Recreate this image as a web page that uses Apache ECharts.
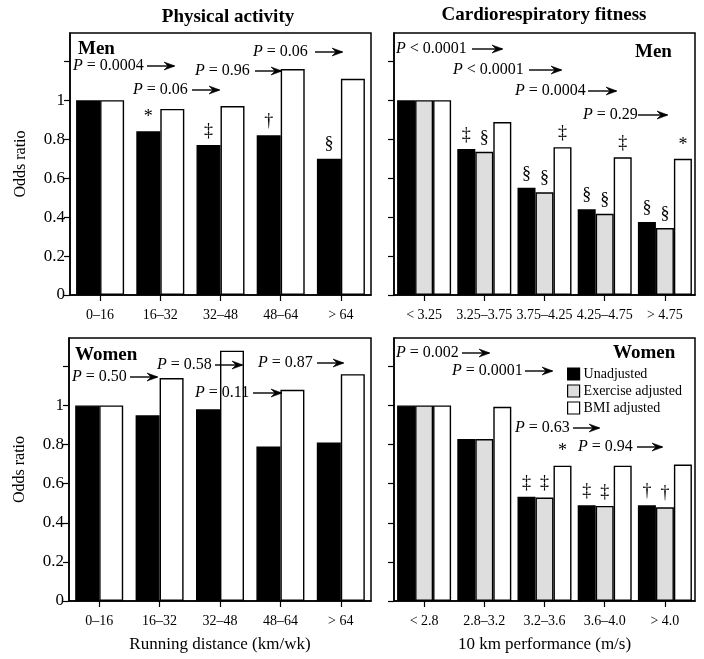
<!DOCTYPE html>
<html><head><meta charset="utf-8">
<script src="https://cdn.jsdelivr.net/npm/echarts@6/dist/echarts.min.js"></script>
<style>html,body{margin:0;padding:0;background:#fff}#c{width:704px;height:659px}</style>
</head><body><div id="c"></div>
<script>
// ---------- data ----------
const paCategories = ['0–16', '16–32', '32–48', '48–64', '> 64'];
const crfMenCategories = ['< 3.25', '3.25–3.75', '3.75–4.25', '4.25–4.75', '> 4.75'];
const crfWomenCategories = ['< 2.8', '2.8–3.2', '3.2–3.6', '3.6–4.0', '> 4.0'];

const paMenUnadj = [1.0, 0.84, 0.77, 0.82, 0.70];
const paMenBmi = [1.0, 0.955, 0.97, 1.16, 1.11];
const paMenUnadjMarks = ['', '*', '‡', '†', '§'];

const paWomenUnadj = [1.0, 0.95, 0.98, 0.79, 0.81];
const paWomenBmi = [1.0, 1.14, 1.28, 1.08, 1.16];

const crfMenUnadj = [1.0, 0.75, 0.55, 0.44, 0.375];
const crfMenEx = [1.0, 0.735, 0.527, 0.417, 0.344];
const crfMenBmi = [1.0, 0.888, 0.759, 0.707, 0.699];
const crfMenUnadjMarks = ['', '‡', '§', '§', '§'];
const crfMenExMarks = ['', '§', '§', '§', '§'];
const crfMenBmiMarks = ['', '', '‡', '‡', '*'];

const crfWomenUnadj = [1.0, 0.828, 0.533, 0.49, 0.49];
const crfWomenEx = [1.0, 0.828, 0.529, 0.486, 0.479];
const crfWomenBmi = [1.0, 0.993, 0.692, 0.692, 0.698];
const crfWomenUnadjMarks = ['', '', '‡', '‡', '†'];
const crfWomenExMarks = ['', '', '‡', '‡', '†'];
const crfWomenBmiMarks = ['', '', '*', '', ''];

const yTickValues = [0, 0.2, 0.4, 0.6, 0.8, 1.0, 1.2];
const yLabelValues = [0, 0.2, 0.4, 0.6, 0.8, 1.0];

const pPaMen = ['P = 0.0004', 'P = 0.06', 'P = 0.96', 'P = 0.06'];
const pCrfMen = ['P < 0.0001', 'P < 0.0001', 'P = 0.0004', 'P = 0.29'];
const pPaWomen = ['P = 0.50', 'P = 0.58', 'P = 0.11', 'P = 0.87'];
const pCrfWomen = ['P = 0.002', 'P = 0.0001', 'P = 0.63', 'P = 0.94'];

const seriesNames = ['Unadjusted', 'Exercise adjusted', 'BMI adjusted'];

// ---------- layout / style ----------
const FONT = 'Liberation Serif, Times New Roman, serif';
const grids = [
  {left: 70, top: 33, width: 301, height: 262},
  {left: 394, top: 33, width: 301, height: 262},
  {left: 69, top: 338, width: 302, height: 263},
  {left: 394, top: 338, width: 301, height: 263}
];
const colors = ['#000000', '#dedede', '#ffffff'];

// annotation positions (pixels): text left x, center y, arrow start, arrow end
const pLayout = [
  [[73, 66, 147, 175], [133, 90, 192, 220], [195, 71, 255, 282], [253, 52, 315, 343]],
  [[396, 49, 472, 503], [453, 70, 529, 562], [515, 91, 588, 617], [583, 115, 638, 668]],
  [[72, 377, 130, 158], [157, 365, 215, 243], [195, 393, 253, 282], [258, 363, 317, 344]],
  [[396, 353, 462, 490], [452, 371, 525, 553], [515, 428, 573, 600], [578, 447, 637, 663]]
];

function yAxis(gi, showLabels) {
  return {
    type: 'value', gridIndex: gi, min: 0, max: 1.345, interval: 0.2,
    axisLine: {show: true, lineStyle: {color: '#000', width: 1.5}},
    axisTick: {show: true, inside: false, length: 6, customValues: yTickValues, lineStyle: {color: '#000', width: 1.2}},
    axisLabel: {show: showLabels, customValues: yLabelValues, fontFamily: FONT, fontSize: 17, color: '#000', margin: 5,
      formatter: v => (v > 1.05 ? '' : (Math.abs(v - 1) < 1e-6 ? '1' : String(+v.toFixed(1))))},
    splitLine: {show: false},
    name: showLabels ? 'Odds ratio' : '', nameLocation: 'middle', nameGap: 41,
    nameTextStyle: {fontFamily: FONT, fontSize: 16, color: '#000'}
  };
}
function xAxis(gi, cats, name) {
  return {
    type: 'category', gridIndex: gi, data: cats,
    axisLine: {show: true, lineStyle: {color: '#000', width: 1.5}},
    axisTick: {show: true, alignWithLabel: true, length: 6, lineStyle: {color: '#000', width: 1.2}},
    axisLabel: {interval: 0, fontFamily: FONT, fontSize: 14, color: '#000', margin: 13},
    name: name || '', nameLocation: 'middle', nameGap: 35,
    nameTextStyle: {fontFamily: FONT, fontSize: 17, color: '#000'}
  };
}
function bar(gi, nameIdx, data, marks, width) {
  return {
    type: 'bar', name: seriesNames[nameIdx], xAxisIndex: gi, yAxisIndex: gi, data: data,
    barWidth: width, barGap: '0%',
    itemStyle: {color: colors[nameIdx], borderColor: '#000', borderWidth: 1.4},
    label: {show: !!marks, position: 'top', distance: 5, fontFamily: FONT, fontSize: 18, color: '#000',
      formatter: p => (marks ? marks[p.dataIndex] : '')},
    emphasis: {disabled: true}, animation: false
  };
}

const graphics = [];
function pText(x, y, str) {
  graphics.push({type: 'text', x: x, y: y, z: 100,
    style: {text: '{i|' + str.charAt(0) + '}' + str.slice(1), fill: '#000', fontFamily: FONT, fontSize: 16,
      verticalAlign: 'middle', align: 'left',
      rich: {i: {fontStyle: 'italic', fontFamily: FONT, fontSize: 16, fill: '#000'}}}});
}
function arrow(x1, x2, y) {
  graphics.push({type: 'line', z: 100, shape: {x1: x1, y1: y, x2: x2 - 1, y2: y}, style: {stroke: '#000', lineWidth: 1.4}});
  graphics.push({type: 'polygon', z: 100, shape: {points: [[x2 - 11, y - 4], [x2, y], [x2 - 11, y + 4], [x2 - 7, y]]},
    style: {fill: '#000', stroke: '#000', lineWidth: 0.6}});
}
[pPaMen, pCrfMen, pPaWomen, pCrfWomen].forEach((arr, gi) => {
  arr.forEach((s, k) => {
    const L = pLayout[gi][k];
    pText(L[0], L[1], s);
    arrow(L[2], L[3], L[1]);
  });
});
function boldText(x, y, str) {
  graphics.push({type: 'text', x: x, y: y, z: 100,
    style: {text: str, fill: '#000', fontFamily: FONT, fontSize: 19, fontWeight: 'bold', verticalAlign: 'middle', align: 'left'}});
}
boldText(78, 49, 'Men');
boldText(635, 52, 'Men');
boldText(75, 355, 'Women');
boldText(613, 353, 'Women');
function titleText(cx, cy, str) {
  graphics.push({type: 'text', x: cx, y: cy, z: 100,
    style: {text: str, fill: '#000', fontFamily: FONT, fontSize: 19, fontWeight: 'bold', verticalAlign: 'middle', align: 'center'}});
}
titleText(228, 17, 'Physical activity');
titleText(544, 15, 'Cardiorespiratory fitness');

const option = {
  backgroundColor: '#fff',
  animation: false,
  legend: {
    data: seriesNames, orient: 'vertical', left: 564, top: 363, itemWidth: 12, itemHeight: 12, itemGap: 1,
    icon: 'rect', selectedMode: false, padding: 3,
    textStyle: {fontFamily: FONT, fontSize: 14, color: '#000', lineHeight: 16, padding: [0, 0, 0, -1]},
    itemStyle: {borderColor: '#000', borderWidth: 1.2}
  },
  grid: grids.map(g => Object.assign({show: true, borderColor: '#000', borderWidth: 1.5, backgroundColor: 'transparent'}, g)),
  xAxis: [
    xAxis(0, paCategories),
    xAxis(1, crfMenCategories),
    xAxis(2, paCategories, 'Running distance (km/wk)'),
    xAxis(3, crfWomenCategories, '10 km performance (m/s)')
  ],
  yAxis: [yAxis(0, true), yAxis(1, false), yAxis(2, true), yAxis(3, false)],
  series: [
    bar(0, 0, paMenUnadj, paMenUnadjMarks, 24),
    bar(0, 2, paMenBmi, null, 24),
    bar(1, 0, crfMenUnadj, crfMenUnadjMarks, 18),
    bar(1, 1, crfMenEx, crfMenExMarks, 18),
    bar(1, 2, crfMenBmi, crfMenBmiMarks, 18),
    bar(2, 0, paWomenUnadj, null, 24),
    bar(2, 2, paWomenBmi, null, 24),
    bar(3, 0, crfWomenUnadj, crfWomenUnadjMarks, 18),
    bar(3, 1, crfWomenEx, crfWomenExMarks, 18),
    bar(3, 2, crfWomenBmi, crfWomenBmiMarks, 18)
  ],
  graphic: graphics
};
const chart = echarts.init(document.getElementById('c'), null, {renderer: 'canvas'});
chart.setOption(option);
</script>
</body></html>
